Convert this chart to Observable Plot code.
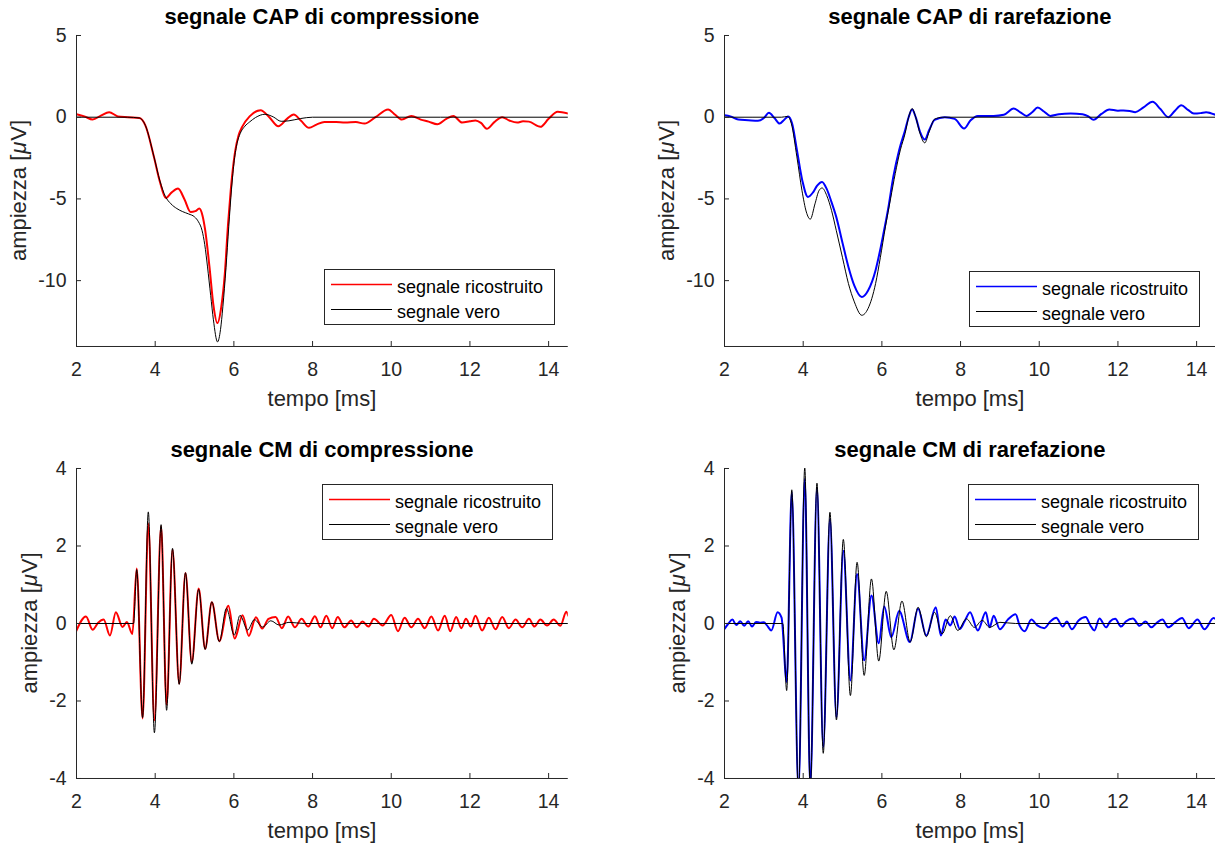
<!DOCTYPE html>
<html>
<head>
<meta charset="utf-8">
<script src="https://cdn.jsdelivr.net/npm/d3@7"></script>
<script src="https://cdn.jsdelivr.net/npm/@observablehq/plot@0.6"></script>
<style>
  html, body { margin: 0; padding: 0; background: #fff; overflow: hidden; }
  #fig { position: relative; width: 1215px; height: 848px; overflow: hidden; background: #fff;
         font-family: "Liberation Sans", Arial, Helvetica, sans-serif; }
  .legend { position: absolute; }
</style>
</head>
<body>
<div id="fig"></div>
<script>
// ---------------- data ----------------
const xTicks = [2, 4, 6, 8, 10, 12, 14];
const yTicksCAP = [-10, -5, 0, 5];
const yTicksCM = [-4, -2, 0, 2, 4];
const titles = ["segnale CAP di compressione", "segnale CAP di rarefazione",
                "segnale CM di compressione", "segnale CM di rarefazione"];
const legendLabels = ["segnale ricostruito", "segnale vero"];
const xLabel = "tempo [ms]";

// [tempo ms, ampiezza µV]
const capCompVero = [[2,0],[3.3,0],[3.6,-0.05],[3.75,-0.5],[3.97,-2.43],[4.12,-3.9],[4.26,-4.85],[4.4,-5.3],[4.55,-5.59],[4.7,-5.78],[4.85,-5.92],[5.0,-6.1],[5.1,-6.4],[5.19,-6.92],[5.26,-7.8],[5.33,-9.16],[5.41,-10.9],[5.48,-12.4],[5.585,-13.75],[5.66,-13.0],[5.72,-11.6],[5.8,-9.2],[5.87,-6.7],[5.94,-4.4],[6.01,-2.63],[6.08,-1.6],[6.16,-1.0],[6.28,-0.55],[6.4,-0.29],[6.55,-0.02],[6.79,0.18],[7.0,0.02],[7.2,-0.25],[7.4,-0.22],[7.7,-0.08],[8.0,0],[14.5,0]];
const capCompRic = [[2,0.18],[2.2,0.05],[2.41,-0.14],[2.62,0.1],[2.83,0.31],[3.05,0.05],[3.3,0],[3.6,-0.05],[3.75,-0.5],[3.97,-2.45],[4.12,-3.95],[4.27,-4.95],[4.42,-4.6],[4.58,-4.37],[4.74,-5.0],[4.9,-5.8],[5.02,-5.75],[5.12,-5.59],[5.2,-6.0],[5.27,-6.9],[5.38,-9.16],[5.48,-11.5],[5.58,-12.6],[5.68,-11.6],[5.77,-9.57],[5.85,-6.6],[5.92,-4.47],[6.03,-2.12],[6.12,-1.1],[6.21,-0.59],[6.4,0.05],[6.68,0.43],[6.9,0.0],[7.13,-0.55],[7.35,-0.1],[7.52,0.16],[7.7,-0.2],[7.91,-0.65],[8.1,-0.45],[8.3,-0.29],[8.6,-0.3],[8.83,-0.33],[9.1,-0.3],[9.32,-0.39],[9.6,0.0],[9.92,0.47],[10.1,0.15],[10.27,-0.14],[10.51,0.08],[10.75,-0.15],[10.95,-0.27],[11.17,-0.43],[11.4,-0.1],[11.58,0.08],[11.8,-0.33],[12.0,-0.25],[12.14,-0.2],[12.28,-0.35],[12.43,-0.71],[12.62,-0.3],[12.82,0.0],[13.0,-0.2],[13.2,-0.33],[13.35,-0.25],[13.5,-0.27],[13.79,-0.59],[14.0,-0.1],[14.23,0.33],[14.5,0.22]];

const capRarVero = [[2,0],[3.45,0],[3.6,0.05],[3.7,-0.4],[3.84,-2.43],[3.97,-4.5],[4.08,-5.8],[4.18,-6.24],[4.3,-5.3],[4.4,-4.5],[4.48,-4.33],[4.6,-4.8],[4.72,-5.7],[4.84,-6.92],[5.0,-8.6],[5.15,-10.18],[5.3,-11.3],[5.49,-12.12],[5.65,-11.7],[5.84,-10.18],[5.96,-8.6],[6.09,-6.71],[6.22,-5.0],[6.34,-3.45],[6.47,-2.0],[6.59,-1.0],[6.68,0.0],[6.77,0.53],[6.86,0.0],[6.97,-1.0],[7.09,-1.57],[7.2,-0.9],[7.34,-0.12],[7.55,0.0],[14.5,0]];
const capRarRic = [[2,0.12],[2.15,0.05],[2.35,-0.14],[2.6,-0.18],[2.85,-0.22],[3.0,-0.05],[3.13,0.27],[3.27,-0.05],[3.4,-0.39],[3.52,-0.15],[3.62,0.04],[3.72,-0.4],[3.84,-2.0],[3.98,-3.9],[4.12,-4.88],[4.25,-4.6],[4.35,-4.2],[4.48,-3.96],[4.6,-4.4],[4.72,-5.2],[4.84,-6.1],[5.0,-7.7],[5.15,-9.16],[5.3,-10.3],[5.49,-11.0],[5.65,-10.6],[5.84,-9.36],[5.95,-8.2],[6.04,-7.12],[6.16,-5.6],[6.29,-3.65],[6.44,-2.0],[6.59,-0.8],[6.68,0.0],[6.77,0.47],[6.86,0.0],[6.97,-0.9],[7.09,-1.37],[7.2,-0.8],[7.34,-0.16],[7.6,0.0],[7.85,-0.1],[8.09,-0.69],[8.25,-0.2],[8.44,0.08],[8.84,0.08],[9.1,0.15],[9.35,0.53],[9.52,0.3],[9.68,0.08],[9.82,0.3],[9.96,0.59],[10.12,0.35],[10.28,0.08],[10.5,0.18],[10.8,0.22],[11.1,0.18],[11.25,0.05],[11.38,-0.16],[11.58,0.2],[11.78,0.47],[12.0,0.4],[12.14,0.41],[12.3,0.38],[12.44,0.31],[12.65,0.6],[12.88,0.94],[13.08,0.5],[13.28,0.0],[13.45,0.4],[13.61,0.73],[13.78,0.45],[13.93,0.22],[14.1,0.25],[14.24,0.31],[14.5,0.12]];

const cmCompVero = [[2,0],[3.45,0],[3.53,1.39],[3.68,-2.43],[3.825,2.88],[3.98,-2.82],[4.15,2.55],[4.29,-2.24],[4.44,1.94],[4.61,-1.57],[4.77,1.31],[4.93,-1.05],[5.105,0.88],[5.27,-0.67],[5.44,0.56],[5.63,-0.47],[5.81,0.39],[6.01,-0.30],[6.155,0.21],[6.35,-0.17],[6.52,0.10],[6.73,-0.09],[6.94,0.07],[7.15,-0.04],[7.4,0.03],[7.8,0],[14.5,0]];
const cmCompRic = [[2,-0.18],[2.24,0.18],[2.41,-0.16],[2.55,0.02],[2.69,0.1],[2.85,-0.31],[3.0,0.29],[3.17,-0.09],[3.28,0.04],[3.42,-0.27],[3.53,1.42],[3.68,-2.45],[3.825,2.58],[3.98,-2.5],[4.15,2.5],[4.29,-2.1],[4.44,1.9],[4.61,-1.55],[4.77,1.3],[4.93,-1.0],[5.105,0.9],[5.27,-0.65],[5.44,0.55],[5.63,-0.45],[5.86,0.46],[6.02,-0.39],[6.22,0.21],[6.38,-0.32],[6.56,0.16],[6.72,-0.13],[6.88,0.12],[7.06,0.17],[7.22,-0.12],[7.38,0.18],[7.55,-0.1],[7.72,0.12],[7.89,-0.08],[8.06,0.19],[8.2,-0.1],[8.35,0.2],[8.5,-0.12],[8.64,0.17],[8.81,-0.1],[8.98,0.08],[9.12,-0.1],[9.27,0.05],[9.42,-0.08],[9.56,0.12],[9.78,-0.05],[10.0,0.22],[10.17,-0.2],[10.34,0.15],[10.51,-0.1],[10.68,0.12],[10.85,-0.12],[11.02,0.18],[11.19,-0.18],[11.36,0.2],[11.5,-0.2],[11.65,0.17],[11.78,-0.12],[11.9,0.12],[12.02,-0.08],[12.14,0.2],[12.31,-0.18],[12.48,0.15],[12.65,-0.15],[12.82,0.17],[12.99,-0.12],[13.16,0.1],[13.33,-0.1],[13.5,0.12],[13.64,-0.08],[13.79,0.1],[13.96,-0.05],[14.13,0.1],[14.3,-0.06],[14.45,0.3],[14.5,0.2]];

const cmRarVero = [[2,0],[3.48,0],[3.58,-1.73],[3.71,3.45],[3.88,-4.4],[4.04,4.02],[4.18,-4.3],[4.35,3.62],[4.51,-3.35],[4.68,2.87],[4.845,-2.49],[5.02,2.17],[5.2,-1.86],[5.37,1.58],[5.55,-1.34],[5.735,1.15],[5.92,-0.97],[6.11,0.83],[6.305,-0.68],[6.51,0.58],[6.72,-0.48],[6.92,0.42],[7.13,-0.34],[7.34,0.29],[7.53,-0.27],[7.74,0.2],[7.93,-0.18],[8.15,0.12],[8.35,-0.1],[8.55,0.08],[8.74,-0.1],[9.0,0.03],[9.4,0],[14.5,0]];
const cmRarRic = [[2,-0.14],[2.1,0.0],[2.2,0.1],[2.3,-0.04],[2.4,0.06],[2.5,-0.06],[2.6,0.06],[2.7,-0.08],[2.8,0.04],[2.9,0.02],[3.0,0.03],[3.08,-0.05],[3.19,-0.18],[3.35,0.29],[3.45,0.15],[3.58,-1.51],[3.71,3.39],[3.88,-4.3],[4.04,3.73],[4.18,-4.2],[4.35,3.5],[4.51,-3.19],[4.68,2.7],[4.845,-2.42],[5.02,1.88],[5.2,-1.47],[5.37,1.28],[5.55,-0.95],[5.735,0.72],[5.92,-0.51],[6.06,0.44],[6.24,-0.35],[6.44,0.32],[6.71,-0.48],[6.92,0.38],[7.13,-0.31],[7.37,0.42],[7.5,-0.31],[7.62,0.1],[7.74,-0.05],[7.85,0.18],[7.98,-0.14],[8.1,0.05],[8.24,0.29],[8.44,-0.18],[8.64,0.29],[8.74,-0.1],[8.84,0.2],[9.0,-0.15],[9.2,0.1],[9.4,0.24],[9.5,-0.05],[9.63,-0.2],[9.8,0.1],[9.95,-0.05],[10.13,-0.12],[10.28,0.05],[10.43,0.15],[10.6,-0.08],[10.7,0.05],[10.83,-0.15],[11.0,0.08],[11.18,0.17],[11.3,-0.05],[11.4,-0.18],[11.53,0.13],[11.7,-0.1],[11.8,0.05],[11.93,0.12],[12.08,-0.08],[12.2,0.05],[12.38,0.13],[12.55,-0.06],[12.7,0.05],[12.85,-0.1],[13.0,0.03],[13.13,0.1],[13.28,-0.1],[13.45,0.03],[13.63,0.14],[13.8,-0.12],[14.02,0.1],[14.2,-0.15],[14.43,0.14],[14.5,0.1]];

// ---------------- layout ----------------
const FONT = "'Liberation Sans', Arial, Helvetica, sans-serif";
const AX = "#262626";
const xDomain = [2, 14.5];
const panels = [
  {title: titles[0], ric: capCompRic, vero: capCompVero, color: "#ff0000", yDomain: [-14.03, 5], yTicks: yTicksCAP,
   frame: {left: 75.5, top: 35.3, width: 491.8, height: 311}, yLabelOff: 50, legend: {left: 324, top: 269}},
  {title: titles[1], ric: capRarRic, vero: capRarVero, color: "#0000ff", yDomain: [-14.03, 5], yTicks: yTicksCAP,
   frame: {left: 723.5, top: 35.3, width: 491.8, height: 311}, yLabelOff: 50, legend: {left: 969, top: 271}},
  {title: titles[2], ric: cmCompRic, vero: cmCompVero, color: "#ff0000", yDomain: [-4, 4], yTicks: yTicksCM,
   frame: {left: 75.5, top: 468, width: 491.8, height: 310}, yLabelOff: 39, legend: {left: 321.5, top: 484}},
  {title: titles[3], ric: cmRarRic, vero: cmRarVero, color: "#0000ff", yDomain: [-4, 4], yTicks: yTicksCM,
   frame: {left: 723.5, top: 468, width: 491.8, height: 310}, yLabelOff: 39, legend: {left: 968, top: 484}}
];

const fig = document.getElementById("fig");
const mL = 80, mT = 40, mR = 12, mB = 75;

for (const p of panels) {
  const f = p.frame;
  const chart = Plot.plot({
    width: mL + f.width + mR,
    height: mT + f.height + mB,
    marginLeft: mL, marginTop: mT, marginRight: mR, marginBottom: mB,
    x: {domain: xDomain},
    y: {domain: p.yDomain},
    style: {background: "transparent", color: AX, fontFamily: FONT, fontSize: "19px", overflow: "visible", maxWidth: "none"},
    marks: [
      Plot.line(p.ric, {x: d => d[0], y: d => d[1], stroke: p.color, strokeWidth: 2, curve: "monotone-x", clip: true}),
      Plot.line(p.vero, {x: d => d[0], y: d => d[1], stroke: "#000", strokeWidth: 1, curve: "monotone-x", clip: true}),
      Plot.ruleX([xDomain[0]], {stroke: AX, strokeWidth: 1}),
      Plot.ruleY([p.yDomain[0]], {stroke: AX, strokeWidth: 1}),
      Plot.axisX(xTicks, {tickSize: -5, tickPadding: 21, tickFormat: d => String(d), label: null, fontSize: 19.5}),
      Plot.axisY(p.yTicks, {tickSize: -5, tickPadding: 15, tickFormat: d => String(d), label: null, fontSize: 19.5})
    ]
  });
  chart.style.position = "absolute";
  chart.style.left = (f.left - mL) + "px";
  chart.style.top = (f.top - mT) + "px";
  chart.style.maxWidth = "none";

  const svg = d3.select(chart);
  // title
  svg.append("text")
    .attr("x", mL + f.width / 2).attr("y", mT - 10.5)
    .attr("text-anchor", "middle").attr("font-size", 22).attr("font-weight", "bold")
    .attr("fill", "#000").attr("font-family", FONT)
    .text(p.title);
  // x label
  svg.append("text")
    .attr("x", mL + f.width / 2).attr("y", mT + f.height + 60.5)
    .attr("text-anchor", "middle").attr("font-size", 22)
    .attr("fill", AX).attr("font-family", FONT)
    .text(xLabel);
  // y label with italic mu
  const yl = svg.append("text")
    .attr("transform", `translate(${mL - p.yLabelOff},${mT + f.height / 2}) rotate(-90)`)
    .attr("text-anchor", "middle").attr("font-size", 22)
    .attr("fill", AX).attr("font-family", FONT);
  yl.append("tspan").text("ampiezza [");
  yl.append("tspan").attr("font-style", "italic").attr("dx", 1).text("\u03bc");
  yl.append("tspan").attr("dx", 1).text("V]");

  fig.appendChild(chart);

  // legend
  const lg = d3.select(fig).append("svg")
    .attr("class", "legend").attr("width", 231).attr("height", 56)
    .style("left", p.legend.left + "px").style("top", p.legend.top + "px");
  lg.append("rect").attr("x", 0.5).attr("y", 0.5).attr("width", 230).attr("height", 55)
    .attr("fill", "#fff").attr("stroke", AX).attr("stroke-width", 1);
  const rows = [{label: legendLabels[0], color: p.color, w: 1.6, y: 15.5},
                {label: legendLabels[1], color: "#000", w: 1, y: 40.5}];
  for (const r of rows) {
    lg.append("line").attr("x1", 7).attr("x2", 68).attr("y1", r.y).attr("y2", r.y)
      .attr("stroke", r.color).attr("stroke-width", r.w);
    lg.append("text").attr("x", 73).attr("y", r.y + 8.5).attr("font-size", 18)
      .attr("fill", "#000").attr("font-family", FONT).text(r.label);
  }
}
</script>
</body>
</html>
